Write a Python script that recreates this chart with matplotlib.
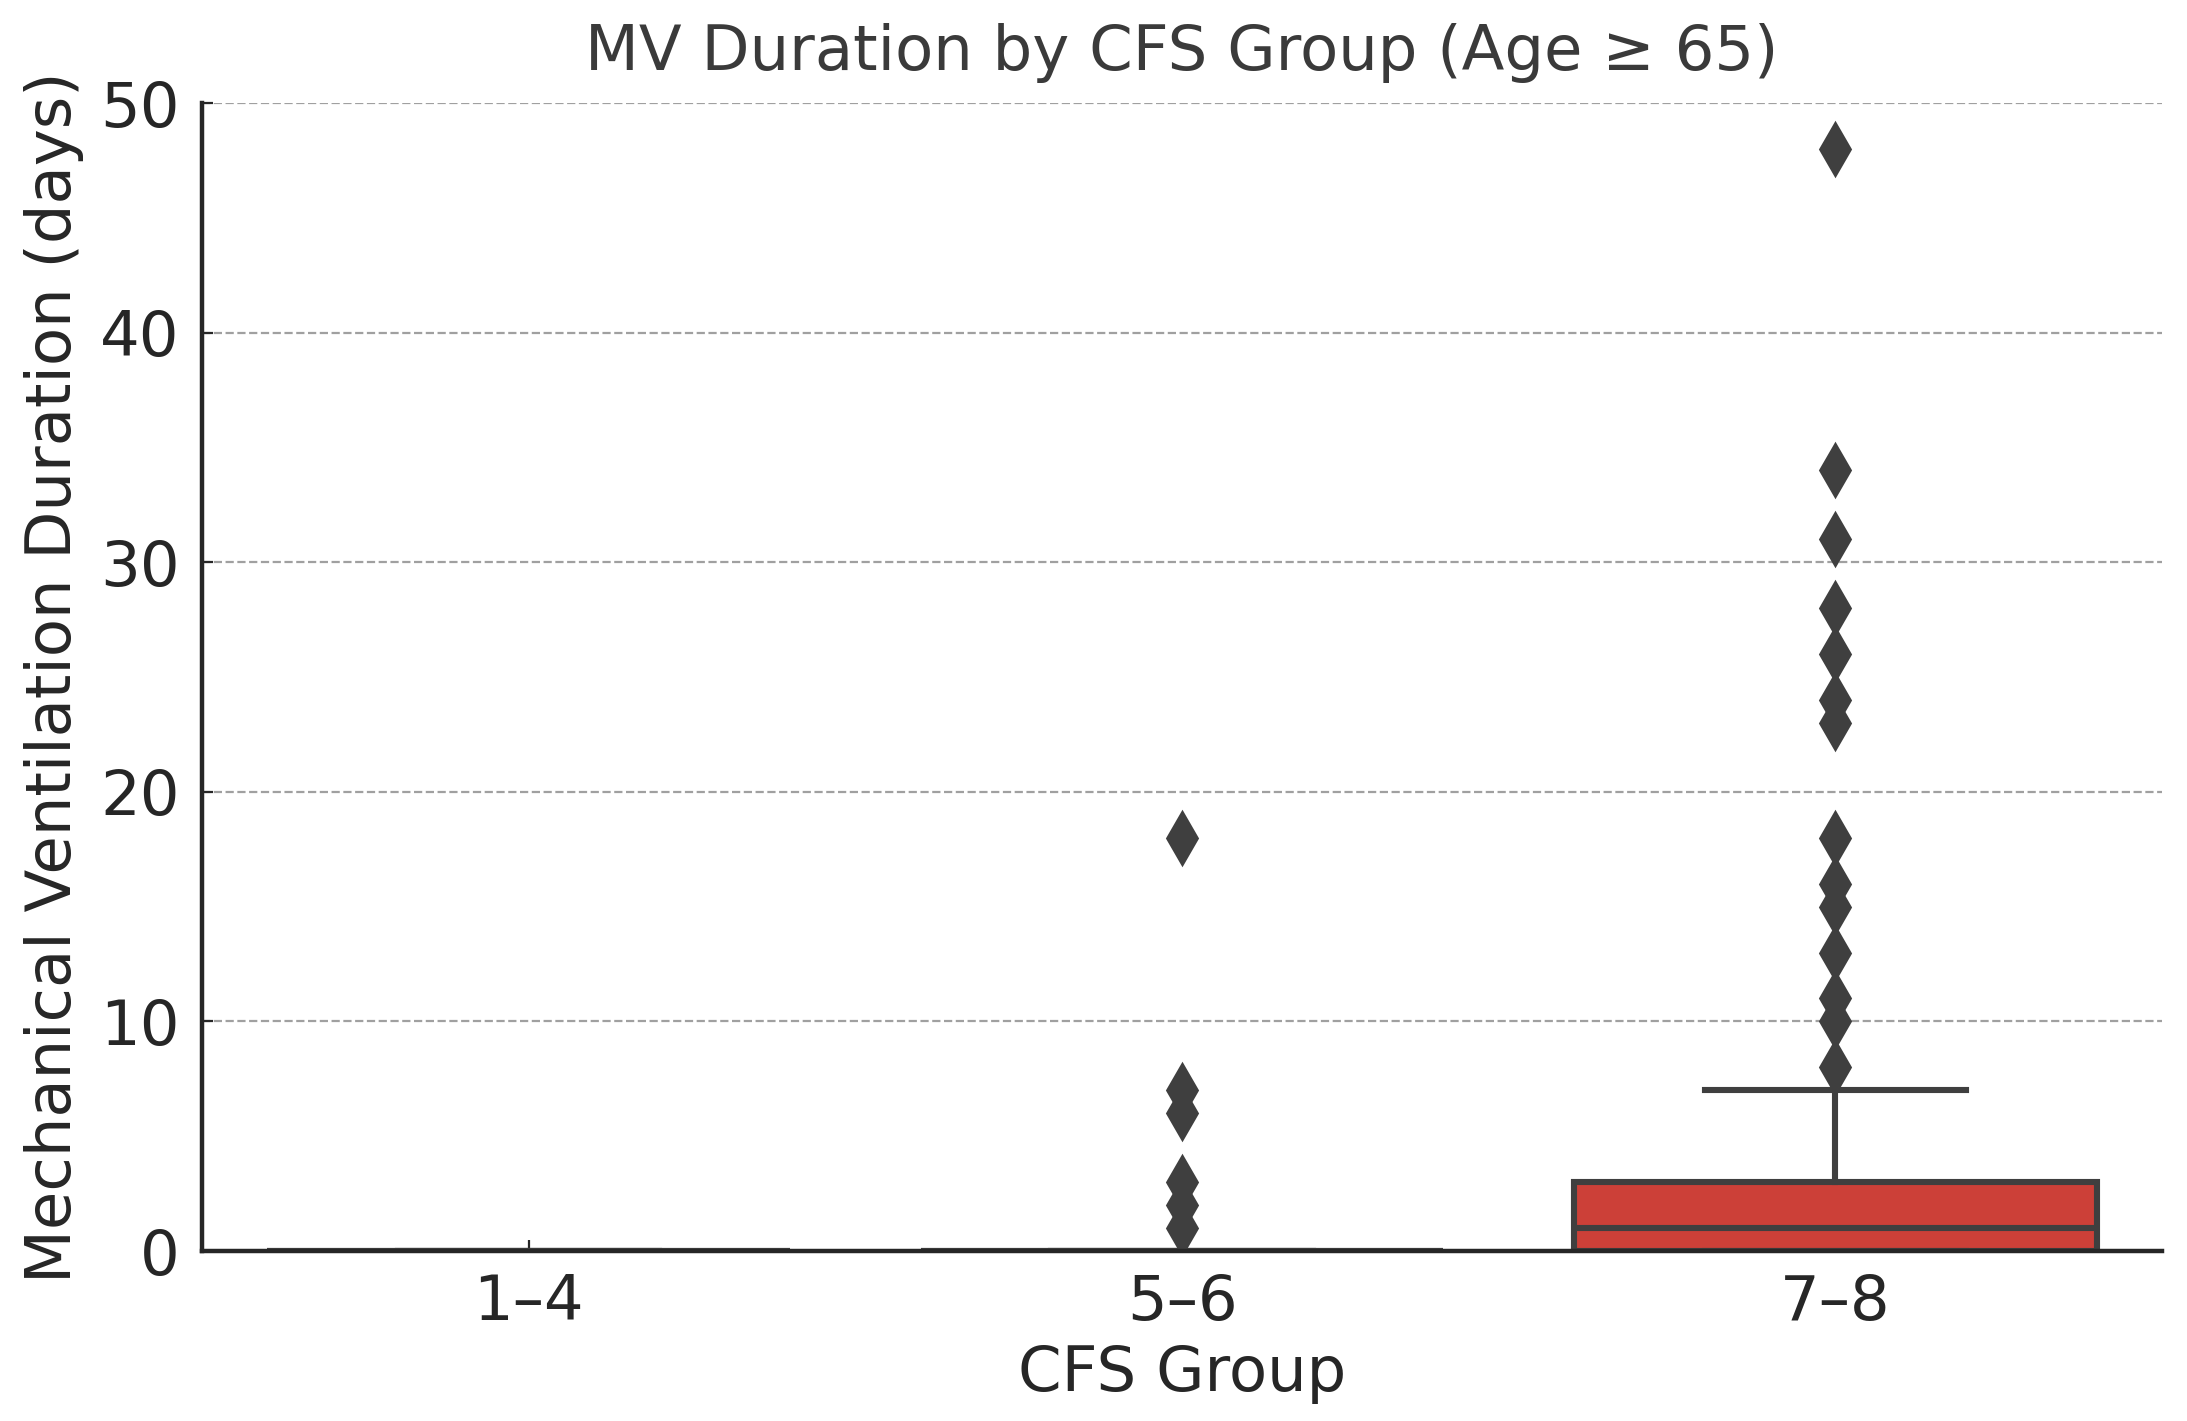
import numpy as np
import matplotlib
matplotlib.use("Agg")
from matplotlib import pyplot as plt

# CFS groups and MV duration (days)
groups = ["1–4", "5–6", "7–8"]
cfs_14 = [0] * 40
cfs_56 = [0] * 40 + [1, 2, 3, 6, 7, 18]
cfs_78 = ([0] * 22 + [1] * 16 + [2] * 6 + [3] * 11 + [4, 5, 6, 7]
          + [8, 10, 11, 13, 15, 16, 18, 23, 24, 26, 28, 31, 34, 48])
data = [cfs_14, cfs_56, cfs_78]
face_colors = ["#3274a1", "#e1812c", "#cc4038"]

edge = "#3f3f3f"
lw = 2.2
fig = plt.figure(figsize=(10.935, 7.105), dpi=200)
ax = fig.add_axes([0.0924, 0.1196, 0.8962, 0.8079])

bp = ax.boxplot(data, positions=range(len(groups)), widths=0.8,
                patch_artist=True, whis=1.5,
                boxprops=dict(edgecolor=edge, linewidth=lw),
                medianprops=dict(color=edge, linewidth=lw),
                whiskerprops=dict(color=edge, linewidth=lw),
                capprops=dict(color=edge, linewidth=lw),
                capwidths=0.4,
                flierprops=dict(marker="d", markerfacecolor=edge,
                                markeredgecolor=edge, markersize=13))
for patch, c in zip(bp["boxes"], face_colors):
    patch.set_facecolor(c)

ax.set_xlim(-0.5, 2.5)
ax.set_ylim(0, 50)
ax.set_yticks([0, 10, 20, 30, 40, 50])
ax.set_xticks(range(len(groups)))
ax.set_xticklabels(groups)

ax.yaxis.grid(True, linestyle="--", color="#a0a0a0", linewidth=0.8)
ax.set_axisbelow(True)
for s in ["top", "right"]:
    ax.spines[s].set_visible(False)
for s in ["left", "bottom"]:
    ax.spines[s].set_color("#262626")
    ax.spines[s].set_linewidth(1.6)

ax.tick_params(axis="both", direction="in", length=4, width=0.8,
               colors="#262626", labelsize=22.5, pad=8)

ax.set_title("MV Duration by CFS Group (Age ≥ 65)", fontsize=22.5,
             color="#3a3a3a", pad=12)
ax.set_xlabel("CFS Group", fontsize=22.5, color="#262626", labelpad=4)
ax.set_ylabel("Mechanical Ventilation Duration (days)", fontsize=22.5,
              color="#262626", labelpad=6)

fig.savefig("out.png", dpi=200)
